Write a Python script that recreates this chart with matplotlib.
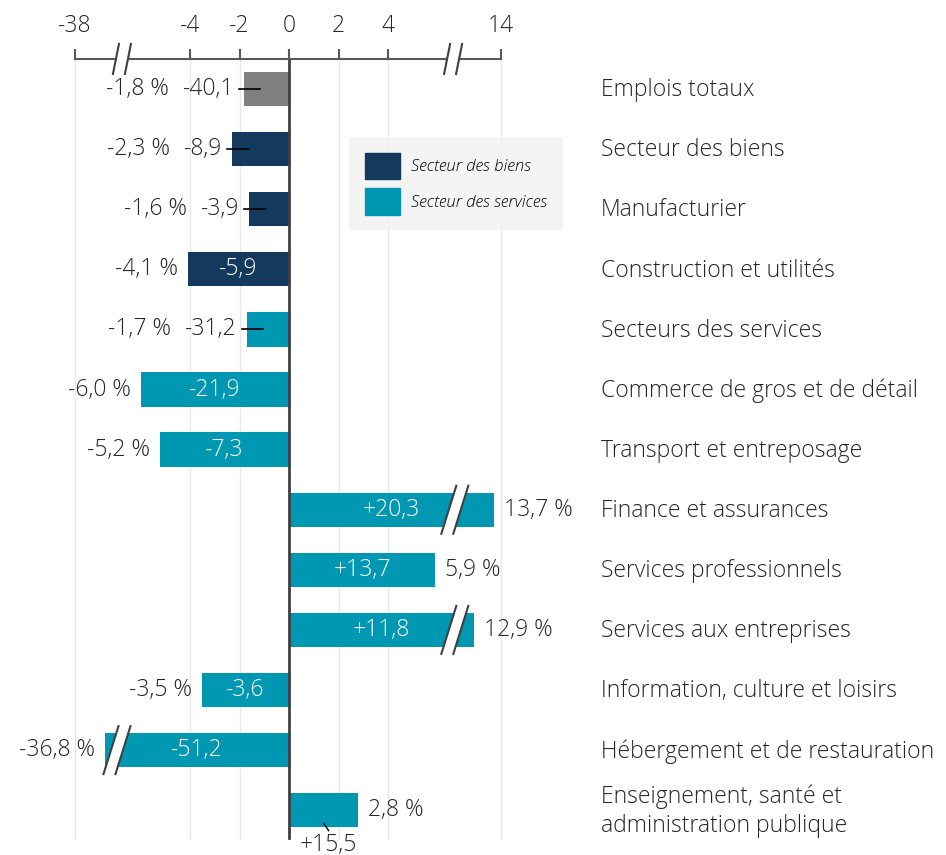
import matplotlib.pyplot as plt
from matplotlib.patches import Patch

plt.rcParams['font.family'] = ['Open Sans', 'DejaVu Sans']
plt.rcParams['font.weight'] = 'light'

categories = ["Emplois totaux", "Secteur des biens", "Manufacturier",
              "Construction et utilités", "Secteurs des services",
              "Commerce de gros et de détail", "Transport et entreposage",
              "Finance et assurances", "Services professionnels",
              "Services aux entreprises", "Information, culture et loisirs",
              "Hébergement et de restauration",
              "Enseignement, santé et\nadministration publique"]
pct = [-1.8, -2.3, -1.6, -4.1, -1.7, -6.0, -5.2, 13.7, 5.9, 12.9, -3.5, -36.8, 2.8]
change = [-40.1, -8.9, -3.9, -5.9, -31.2, -21.9, -7.3, 20.3, 13.7, 11.8, -3.6, -51.2, 15.5]
groups = ["total", "biens", "biens", "biens", "services", "services", "services",
          "services", "services", "services", "services", "services", "services"]
ticks = [-38, -4, -2, 0, 2, 4, 14]

colors = {"total": "#808080", "biens": "#133a5c", "services": "#0097b2"}
txt = "#262626"
FS = 16.5

PX = 24.75   # pixels per unit on x
PY = 60.1    # pixels per row


def disp(v):
    # broken axis: far values are shifted next to the break
    if v < -7:
        return v + 29.35
    if v > 7:
        return v - 5.43
    return v


def fmt(v, sign=False):
    s = f"{v:+.1f}" if sign else f"{v:.1f}"
    return s.replace('.', ',')


def slashes(ax, xc, yc, h, dx, gap, lw=1.5):
    # two parallel slanted strokes with white between
    h = h / PY / 2
    dx = dx / PX / 2
    g = gap / PX / 2
    xs = [xc - g - dx, xc - g + dx, xc + g + dx, xc + g - dx]
    ys = [yc + h, yc - h, yc - h, yc + h]
    ax.fill(xs, ys, color='white', zorder=4, lw=0)
    for s in (-g, g):
        ax.plot([xc + s - dx, xc + s + dx], [yc + h, yc - h], color='#404040', lw=lw, zorder=5)


fig = plt.figure(figsize=(9.46, 8.55), dpi=100)
ax = fig.add_axes([0, 0, 1, 1])
ax.set_xlim(-289 / PX, (946 - 289) / PX)
ax.set_ylim((855 - 89) / PY, -89 / PY)
ax.axis('off')

rows = list(range(len(categories)))
ya = (59 - 89) / PY
ybot = (838 - 89) / PY

# grid and zero line
for t in ticks:
    if t == 0:
        ax.plot([0, 0], [ya, ybot], color='#404040', lw=2, zorder=3)
    else:
        ax.plot([disp(t)] * 2, [ya, ybot], color='#e8e8e8', lw=1, zorder=0)

# top axis
ax.plot([disp(-38), disp(14)], [ya, ya], color='#595959', lw=1.5, zorder=3)
for t in ticks:
    ax.plot([disp(t)] * 2, [ya, ya - 9 / PY], color='#595959', lw=1.5, zorder=3)
    ax.text(disp(t), (26 - 89) / PY, str(t), ha='center', va='center', fontsize=FS, color=txt)
slashes(ax, -6.75, ya, 30, 6, 12)
slashes(ax, 6.63, ya, 30, 6, 12)

vals = [disp(v) for v in pct]
ax.barh(rows, vals, height=0.57, color=[colors[g] for g in groups], zorder=2)

for i, (p, c, v) in enumerate(zip(pct, change, vals)):
    ax.text((601 - 289) / PX, i + 0.02, categories[i], ha='left', va='center',
            fontsize=FS, color=txt, linespacing=1.3)
    side = -1 if p < 0 else 1
    ha = 'right' if p < 0 else 'left'
    if abs(p) >= 3:
        ax.text(v / 2, i, fmt(c, sign=c > 0), ha='center', va='center',
                fontsize=FS, color='white', zorder=6)
        ax.text(v + side * 10 / PX, i, fmt(p) + " %", ha=ha, va='center', fontsize=FS, color=txt)
    elif p < 0:
        ax.plot([v - 5 / PX, v + 16 / PX], [i, i], color='black', lw=1.2, zorder=6)
        t = ax.text(v - 10 / PX, i, fmt(c), ha='right', va='center', fontsize=FS, color=txt)
        ax.annotate(fmt(p) + " %", xy=(0, 0.5), xycoords=t, xytext=(-10, 0),
                    textcoords='offset points', ha='right', va='center', fontsize=FS, color=txt)
    else:
        ax.plot([v / 2, v / 2 + 5 / PX], [i + 0.22, i + 0.34], color='black', lw=1, zorder=6)
        ax.text(v / 2 + 5 / PX, i + 0.38, fmt(c, sign=True), ha='center', va='top',
                fontsize=FS, color=txt)
        ax.text(v + 10 / PX, i, fmt(p) + " %", ha='left', va='center', fontsize=FS, color=txt)
    if abs(p) > 7:
        xb = 6.7 if p > 0 else -6.95
        slashes(ax, xb, i, 48, 15, 12)

handles = [Patch(color=colors["biens"], label="Secteur des biens"),
           Patch(color=colors["services"], label="Secteur des services")]
leg = fig.legend(handles=handles, loc='upper left', bbox_to_anchor=(349 / 946, 1 - 137 / 855),
                 prop={'family': 'Open Sans', 'style': 'italic', 'size': 12, 'weight': 'light'},
                 frameon=True, facecolor='#f2f2f2', edgecolor='none', fancybox=False,
                 handlelength=2.1, handleheight=2.05, labelspacing=0.55,
                 handletextpad=0.65, borderpad=0.95, borderaxespad=0)
leg.get_frame().set_linewidth(0)

fig.savefig('out.png', dpi=100)
